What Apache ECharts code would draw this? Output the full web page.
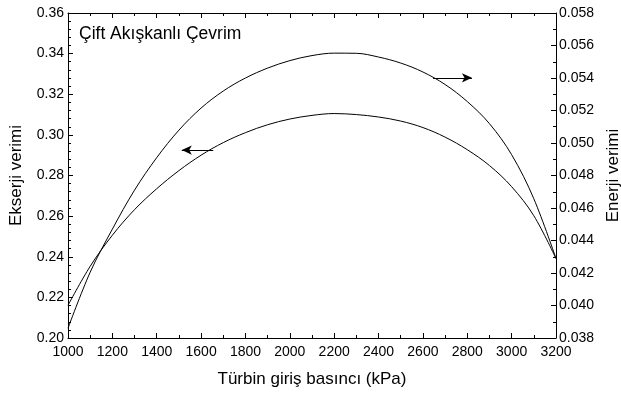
<!DOCTYPE html>
<html>
<head>
<meta charset="utf-8">
<script src="https://cdn.jsdelivr.net/npm/echarts@6/dist/echarts.min.js"></script>
<style>
  html, body { margin: 0; padding: 0; background: #fff; }
  #chart { width: 621px; height: 394px; }
</style>
</head>
<body>
<div id="chart"></div>
<script>
// Turbine inlet pressure (kPa)
const pressure = [1000, 1100, 1200, 1300, 1400, 1500, 1600, 1700, 1800, 1900, 2000, 2100,
                  2200, 2300, 2400, 2500, 2600, 2700, 2800, 2900, 3000, 3100, 3200];
// Exergy efficiency (left axis)
const exergy = [0.2161, 0.2353, 0.2506, 0.2632, 0.2735, 0.2824, 0.2900, 0.2962, 0.3011, 0.3050, 0.3078, 0.3096,
                0.3105, 0.3100, 0.3088, 0.3068, 0.3036, 0.2989, 0.2927, 0.2849, 0.2745, 0.2602, 0.2391];
// Energy efficiency (right axis)
const energy = [0.03860, 0.04205, 0.04470, 0.04710, 0.04910, 0.05079, 0.05215, 0.05320, 0.05400, 0.05461, 0.05507, 0.05538,
                0.05553, 0.05552, 0.05529, 0.05492, 0.05437, 0.05360, 0.05255, 0.05119, 0.04928, 0.04657, 0.04289];

const titleText = 'Çift Akışkanlı Çevrim';
const xName = 'Türbin giriş basıncı (kPa)';
const yLeftName = 'Ekserji verimi';
const yRightName = 'Enerji verimi';

// Arrows pointing each curve to its axis: [from, to] in data units
const exergyArrow = [[1655, 0.2925], [1513, 0.2925]];
const energyArrow = [[2646, 0.05401], [2821, 0.05401]];

const FONT = '"Liberation Sans", Arial, sans-serif';
const ink = '#000';

const axisLine = { show: true, onZero: false, lineStyle: { color: ink, width: 1 } };
const axisTick = { show: true, inside: true, length: 5, lineStyle: { color: ink } };
const minor = n => ({ show: true, splitNumber: n, length: 3, lineStyle: { color: ink } });
const noSplit = { show: false };

function arrowLine(pts) {
  return {
    silent: true,
    symbol: ['none', 'arrow'],
    symbolSize: [7, 10],
    label: { show: false },
    lineStyle: { color: ink, width: 1, type: 'solid' },
    data: [[{ coord: pts[0] }, { coord: pts[1] }]]
  };
}

const chart = echarts.init(document.getElementById('chart'), null, { renderer: 'canvas' });
chart.setOption({
  animation: false,
  backgroundColor: '#fff',
  textStyle: { fontFamily: FONT, color: ink },
  title: {
    text: titleText,
    left: 79, top: 25, padding: 0,
    textStyle: { fontFamily: FONT, fontSize: 17.5, fontWeight: 'normal', color: ink }
  },
  grid: { left: 68, right: 65, top: 13, bottom: 56, containLabel: false, outerBoundsMode: 'none' },
  xAxis: [
    {
      type: 'value', min: 1000, max: 3200, interval: 200,
      name: xName, nameLocation: 'middle', nameGap: 33,
      nameTextStyle: { fontFamily: FONT, fontSize: 17, color: ink },
      axisLabel: { fontFamily: FONT, fontSize: 14, color: ink, margin: 7, formatter: v => String(v) },
      axisLine, axisTick, minorTick: minor(2), splitLine: noSplit
    },
    {
      type: 'value', min: 1000, max: 3200, interval: 200, position: 'top',
      axisLabel: { show: false },
      axisLine, axisTick, minorTick: minor(2), splitLine: noSplit
    }
  ],
  yAxis: [
    {
      type: 'value', min: 0.2, max: 0.36, interval: 0.02, position: 'left',
      name: yLeftName, nameLocation: 'middle', nameGap: 43,
      nameTextStyle: { fontFamily: FONT, fontSize: 17, color: ink },
      axisLabel: { fontFamily: FONT, fontSize: 14, color: ink, margin: 4, formatter: v => v.toFixed(2) },
      axisLine, axisTick, minorTick: minor(5), splitLine: noSplit
    },
    {
      type: 'value', min: 0.038, max: 0.058, interval: 0.002, position: 'right',
      name: yRightName, nameLocation: 'middle', nameGap: 48,
      nameTextStyle: { fontFamily: FONT, fontSize: 17, color: ink },
      axisLabel: { fontFamily: FONT, fontSize: 14, color: ink, margin: 3, formatter: v => v.toFixed(3) },
      axisLine, axisTick, minorTick: minor(2), splitLine: noSplit
    }
  ],
  series: [
    {
      name: yLeftName, type: 'line', xAxisIndex: 0, yAxisIndex: 0,
      data: pressure.map((p, i) => [p, exergy[i]]),
      smooth: 0.35, showSymbol: false,
      lineStyle: { color: ink, width: 1 },
      markLine: arrowLine(exergyArrow)
    },
    {
      name: yRightName, type: 'line', xAxisIndex: 0, yAxisIndex: 1,
      data: pressure.map((p, i) => [p, energy[i]]),
      smooth: 0.35, showSymbol: false,
      lineStyle: { color: ink, width: 1 },
      markLine: arrowLine(energyArrow)
    }
  ]
});
</script>
</body>
</html>
